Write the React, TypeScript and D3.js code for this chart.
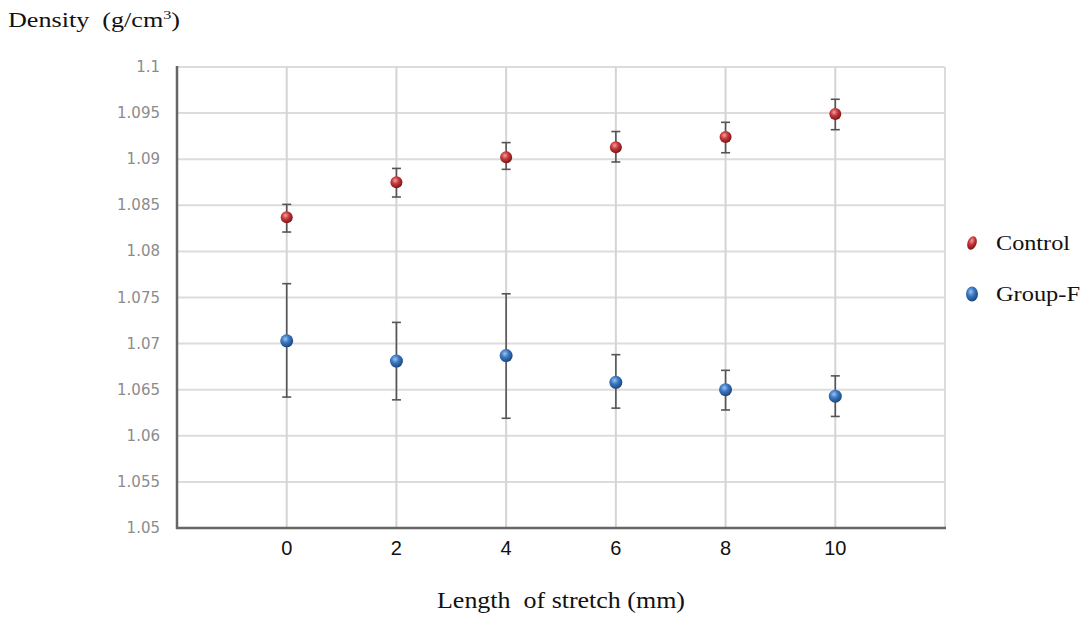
import React, { useEffect, useRef } from "react";
import * as d3 from "d3";

const stretch = [0, 2, 4, 6, 8, 10];
const controlMean = [1.0837, 1.0875, 1.0902, 1.0913, 1.0924, 1.0949];
const controlHigh = [1.0851, 1.089, 1.0918, 1.093, 1.094, 1.0965];
const controlLow = [1.0821, 1.0859, 1.0889, 1.0897, 1.0907, 1.0932];
const groupFMean = [1.0703, 1.0681, 1.0687, 1.0658, 1.065, 1.0643];
const groupFHigh = [1.0765, 1.0723, 1.0754, 1.0688, 1.0671, 1.0665];
const groupFLow = [1.0642, 1.0639, 1.0619, 1.063, 1.0628, 1.0621];
const yTicks = [1.05, 1.055, 1.06, 1.065, 1.07, 1.075, 1.08, 1.085, 1.09, 1.095, 1.1];

const serif = "'Liberation Serif', 'Times New Roman', serif";

export default function App() {
  const svgRef = useRef<SVGSVGElement>(null);
  const width = 1085;
  const height = 618;

  useEffect(() => {
    const svg = d3.select(svgRef.current);
    svg.selectAll("*").remove();

    const x = d3.scaleLinear().domain([-2, 12]).range([177, 945]);
    const y = d3.scaleLinear().domain([1.05, 1.1]).range([528, 67]);

    const defs = svg.append("defs");
    const grad = (id: string, light: string, mid: string, dark: string) => {
      const g = defs.append("radialGradient").attr("id", id)
        .attr("cx", "40%").attr("cy", "35%").attr("r", "65%");
      g.append("stop").attr("offset", "0%").attr("stop-color", light);
      g.append("stop").attr("offset", "45%").attr("stop-color", mid);
      g.append("stop").attr("offset", "100%").attr("stop-color", dark);
    };
    grad("redBall", "#f2a0a0", "#c8383a", "#7a1518");
    grad("blueBall", "#9cc4ee", "#3a78c2", "#1d467e");

    // grid
    svg.append("g").selectAll("line")
      .data(yTicks.slice(1))
      .join("line")
        .attr("x1", 177).attr("x2", 945)
        .attr("y1", d => y(d)).attr("y2", d => y(d))
        .attr("stroke", "#dcdcdc").attr("stroke-width", 2);
    svg.append("g").selectAll("line")
      .data(stretch)
      .join("line")
        .attr("x1", d => x(d)).attr("x2", d => x(d))
        .attr("y1", 67).attr("y2", 528)
        .attr("stroke", "#d4d4d4").attr("stroke-width", 2);
    svg.append("line").attr("x1", 945).attr("x2", 945).attr("y1", 67).attr("y2", 528)
      .attr("stroke", "#dcdcdc").attr("stroke-width", 2);

    // axes
    svg.append("line").attr("x1", 177).attr("x2", 177).attr("y1", 66).attr("y2", 529)
      .attr("stroke", "#666").attr("stroke-width", 2.5);
    svg.append("line").attr("x1", 176).attr("x2", 946).attr("y1", 528).attr("y2", 528)
      .attr("stroke", "#666").attr("stroke-width", 2.5);

    svg.append("g").selectAll("text")
      .data(yTicks)
      .join("text")
        .attr("x", 160).attr("y", d => y(d) + 5)
        .attr("text-anchor", "end")
        .attr("font-family", "'DejaVu Sans', sans-serif")
        .attr("font-size", 15).attr("fill", "#8c8c8c")
        .text(d => d3.format("")(d));

    svg.append("g").selectAll("text")
      .data(stretch)
      .join("text")
        .attr("x", d => x(d)).attr("y", 555)
        .attr("text-anchor", "middle")
        .attr("font-family", "'Liberation Sans', Arial, sans-serif")
        .attr("font-size", 20).attr("fill", "#111")
        .text(d => d);

    const series = [
      { mean: controlMean, hi: controlHigh, lo: controlLow, fill: "url(#redBall)", r: 6 },
      { mean: groupFMean, hi: groupFHigh, lo: groupFLow, fill: "url(#blueBall)", r: 6.5 },
    ];

    series.forEach(s => {
      const g = svg.append("g");
      const idx = d3.range(stretch.length);
      g.selectAll("line.bar").data(idx).join("line").attr("class", "bar")
        .attr("x1", i => x(stretch[i])).attr("x2", i => x(stretch[i]))
        .attr("y1", i => y(s.hi[i])).attr("y2", i => y(s.lo[i]))
        .attr("stroke", "#555").attr("stroke-width", 1.6);
      [s.hi, s.lo].forEach(v => {
        g.selectAll(null).data(idx).join("line")
          .attr("x1", i => x(stretch[i]) - 4.5).attr("x2", i => x(stretch[i]) + 4.5)
          .attr("y1", i => y(v[i])).attr("y2", i => y(v[i]))
          .attr("stroke", "#555").attr("stroke-width", 1.6);
      });
      g.selectAll("circle").data(idx).join("circle")
        .attr("cx", i => x(stretch[i])).attr("cy", i => y(s.mean[i]))
        .attr("r", s.r).attr("fill", s.fill);
    });

    // title and axis label
    const title = svg.append("text").attr("x", 8).attr("y", 27)
      .attr("font-family", serif).attr("font-size", 21).attr("fill", "#111")
      .style("white-space", "pre")
      .attr("textLength", 172).attr("lengthAdjust", "spacingAndGlyphs");
    title.append("tspan").text("Density  (g/cm");
    title.append("tspan").attr("font-size", 13).attr("dy", -8).text("3");
    title.append("tspan").attr("dy", 8).text(")");

    svg.append("text").attr("x", 437).attr("y", 608)
      .attr("font-family", serif).attr("font-size", 24).attr("fill", "#111")
      .style("white-space", "pre")
      .attr("textLength", 248).attr("lengthAdjust", "spacingAndGlyphs")
      .text("Length  of stretch (mm)");

    // legend
    const legend = [
      { label: "Control", fill: "url(#redBall)", rx: 4.5, ry: 7, cy: 243, w: 74 },
      { label: "Group-F", fill: "url(#blueBall)", rx: 6, ry: 7.5, cy: 294, w: 84 },
    ];
    const lg = svg.append("g");
    lg.selectAll("ellipse").data(legend).join("ellipse")
      .attr("cx", 972).attr("cy", d => d.cy).attr("rx", d => d.rx).attr("ry", d => d.ry)
      .attr("fill", d => d.fill).attr("transform", d => d.label === "Control" ? `rotate(20 972 ${d.cy})` : null);
    lg.selectAll("text").data(legend).join("text")
      .attr("x", 996).attr("y", d => d.cy + 7)
      .attr("font-family", serif).attr("font-size", 20).attr("fill", "#111")
      .attr("textLength", d => d.w).attr("lengthAdjust", "spacingAndGlyphs")
      .text(d => d.label);
  }, []);

  return (
    <svg ref={svgRef} width={width} height={height}
      style={{ position: "absolute", left: 0, top: 0, background: "#fff" }} />
  );
}
